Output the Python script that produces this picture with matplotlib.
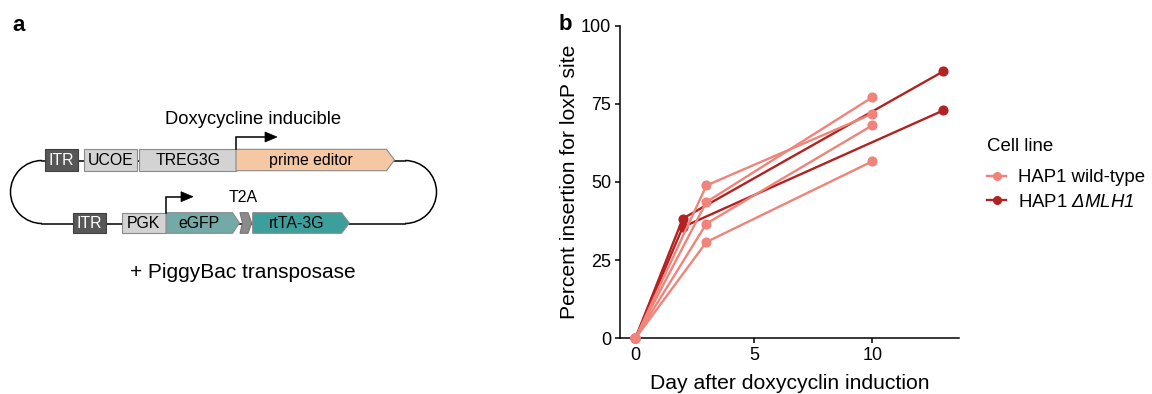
import matplotlib
matplotlib.use("Agg")
import matplotlib.pyplot as plt
from matplotlib.patches import Rectangle, Polygon, Arc
from matplotlib.lines import Line2D

plt.rcParams['font.family'] = ['Liberation Sans', 'DejaVu Sans']
plt.rcParams['mathtext.fontset'] = 'custom'
plt.rcParams['mathtext.rm'] = 'Liberation Sans:italic'
plt.rcParams['mathtext.it'] = 'Liberation Sans:italic'

# ---------------- data (panel b) ----------------
wt_days = [0, 3, 10]
wt_rep1 = [0, 48.9, 71.8]
wt_rep2 = [0, 43.6, 77.1]
wt_rep3 = [0, 36.7, 68.1]
wt_rep4 = [0, 30.8, 56.6]

ko_days = [0, 2, 13]
ko_rep1 = [0, 38.3, 85.4]
ko_rep2 = [0, 35.6, 72.9]

x_ticks = [0, 5, 10]
y_ticks = [0, 25, 50, 75, 100]
legend_labels = ["HAP1 wild-type", r"HAP1 $\mathit{ΔMLH1}$"]

# ---------------- diagram labels (panel a) ----------------
top_parts = ["ITR", "UCOE", "TREG3G", "prime editor"]
bottom_parts = ["ITR", "PGK", "eGFP", "T2A", "rtTA-3G"]

W, H = 1152, 394
fig = plt.figure(figsize=(W / 100, H / 100), dpi=100)

# ---------------- panel a: schematic ----------------
ax0 = fig.add_axes([0, 0, 1, 1])
ax0.set_xlim(0, W)
ax0.set_ylim(H, 0)
ax0.axis('off')

lw_bb = 1.1
# backbone
ytop, ybot = 160.5, 223.5
r = (ybot - ytop) / 2
cy = (ytop + ybot) / 2
xl, xr = 42, 405
ax0.plot([xl, xr], [ytop, ytop], color='black', lw=lw_bb, zorder=1)
ax0.plot([xl, xr], [ybot, ybot], color='black', lw=lw_bb, zorder=1)
ax0.add_patch(Arc((xl, cy), 2 * r, 2 * r, theta1=90, theta2=270, color='black', lw=lw_bb, zorder=1))
ax0.add_patch(Arc((xr, cy), 2 * r, 2 * r, theta1=-90, theta2=90, color='black', lw=lw_bb, zorder=1))

edge = '#8a8a8a'
dark = '#575757'
light = '#d3d3d3'
fs_box = 11.4


def box(x0, x1, y0, y1, fc, label, tc='black', ec=edge):
    ax0.add_patch(Rectangle((x0, y0), x1 - x0, y1 - y0, facecolor=fc, edgecolor=ec, lw=0.8, zorder=2))
    ax0.text((x0 + x1) / 2, (y0 + y1) / 2 + 0.5, label, ha='center', va='center', fontsize=fs_box, color=tc, zorder=3)


def arrowbox(x0, xb, xt, y0, y1, fc, label, ec=edge):
    yc = (y0 + y1) / 2
    ax0.add_patch(Polygon([(x0, y0), (xb, y0), (xt, yc), (xb, y1), (x0, y1)], closed=True,
                          facecolor=fc, edgecolor=ec, lw=0.8, zorder=2))
    ax0.text((x0 + xb) / 2, yc + 0.5, label, ha='center', va='center', fontsize=fs_box, zorder=3)


t0, t1 = 149.3, 170.7
box(45, 78.3, t0, t1, dark, top_parts[0], tc='white', ec='#404040')
box(84, 136.7, t0, t1, light, top_parts[1])
box(139.3, 236, t0, t1, light, top_parts[2])
arrowbox(236, 386.5, 394.5, t0, t1, '#f5c7a2', top_parts[3])

b0, b1 = 212.7, 233.3
box(72.7, 106, b0, b1, dark, bottom_parts[0], tc='white', ec='#404040')
box(121.7, 166, b0, b1, light, bottom_parts[1])
arrowbox(166, 232.5, 239.5, b0, b1, '#73a9a6', bottom_parts[2])
# T2A small segment
bc = (b0 + b1) / 2
ax0.add_patch(Polygon([(240, b0), (248, b0), (251.7, bc), (248, b1), (240, b1), (242.5, bc)], closed=True,
                      facecolor='#8a8a8a', edgecolor='#777777', lw=0.8, zorder=2))
ax0.text(243, 197.5, bottom_parts[3], ha='center', va='center', fontsize=fs_box)
arrowbox(252.7, 341.5, 349.3, b0, b1, '#3d9f9b', bottom_parts[4])


# promoter arrows
def promoter(x, ybase, ytopp, xend):
    ax0.plot([x, x, xend - 11], [ybase, ytopp, ytopp], color='black', lw=1.1, zorder=4,
             solid_joinstyle='miter')
    ax0.add_patch(Polygon([(xend - 12, ytopp - 5), (xend, ytopp), (xend - 12, ytopp + 5)], closed=True,
                          facecolor='black', edgecolor='black', lw=0.5, zorder=4))


promoter(236, t0, 137, 277)
promoter(166, b0, 196.7, 193)

ax0.text(253, 119, "Doxycycline inducible", ha='center', va='center', fontsize=13.2)
ax0.text(242.5, 273, "+ PiggyBac transposase", ha='center', va='center', fontsize=15)
ax0.text(12, 25, "a", ha='left', va='center', fontsize=16, fontweight='bold')
ax0.text(559, 24, "b", ha='left', va='center', fontsize=16, fontweight='bold')

# ---------------- panel b: line chart ----------------
left_px, right_px, top_px, bot_px = 620, 958.7, 25.7, 338.3
ax = fig.add_axes([left_px / W, 1 - bot_px / H, (right_px - left_px) / W, (bot_px - top_px) / H])
ax.patch.set_alpha(0)

c_wt = '#f0837a'
c_ko = '#b22222'
lw = 1.7
ms = 6.3
for ys in [ko_rep1, ko_rep2]:
    ax.plot(ko_days, ys, color=c_ko, lw=lw, marker='o', ms=ms, clip_on=False, zorder=3)
for ys in [wt_rep1, wt_rep2, wt_rep3, wt_rep4]:
    ax.plot(wt_days, ys, color=c_wt, lw=lw, marker='o', ms=ms, clip_on=False, zorder=4)

ax.set_xlim(-0.65, 13.65)
ax.set_ylim(0, 100)
ax.set_xticks(x_ticks)
ax.set_yticks(y_ticks)
ax.spines['top'].set_visible(False)
ax.spines['right'].set_visible(False)
for s in ['left', 'bottom']:
    ax.spines[s].set_linewidth(1.1)
ax.tick_params(axis='both', direction='out', length=3.5, width=1.1, labelsize=13, pad=3, colors='black')
ax.set_xlabel("Day after doxycyclin induction", fontsize=15.2, labelpad=7)
ax.set_ylabel("Percent insertion for loxP site", fontsize=15.2, labelpad=1)

handles = [Line2D([], [], color=c_wt, lw=lw, marker='o', ms=5.5),
           Line2D([], [], color=c_ko, lw=lw, marker='o', ms=5.5)]
leg = ax.legend(handles, legend_labels, title="Cell line", loc='upper left',
                bbox_to_anchor=(978 / W, 1 - 129 / H), bbox_transform=fig.transFigure,
                frameon=False, fontsize=13.4, title_fontsize=13.4, borderpad=0,
                handlelength=1.0, handletextpad=0.65, labelspacing=0.4, alignment='left')
leg._legend_box.sep = 10

fig.savefig("out.png", dpi=100)
